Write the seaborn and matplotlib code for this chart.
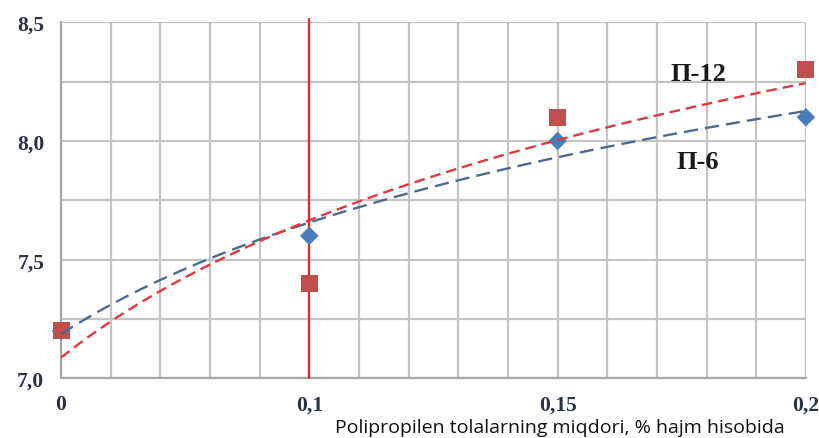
import numpy as np
import pandas as pd
import matplotlib
matplotlib.use("Agg")
import matplotlib.pyplot as plt
from matplotlib.ticker import MultipleLocator
import seaborn as sns

# Data
categories = ["0", "0,1", "0,15", "0,2"]
p6_values = [7.2, 7.6, 8.0, 8.1]
p12_values = [7.2, 7.4, 8.1, 8.3]

sns.set_style("white")

idx = np.arange(len(categories))

# logarithmic trend lines (Excel style: y = a*ln(x) + b, x = 1..n)
xs = np.linspace(0, len(categories) - 1, 200)
a6, b6 = np.polyfit(np.log(idx + 1), p6_values, 1)
a12, b12 = np.polyfit(np.log(idx + 1), p12_values, 1)
trend = pd.DataFrame({
    "x": xs,
    "p6": a6 * np.log(xs + 1) + b6,
    "p12": a12 * np.log(xs + 1) + b12,
})
points = pd.DataFrame({"x": idx, "p6": p6_values, "p12": p12_values})

fig = plt.figure(figsize=(8.19, 4.39), dpi=100)
ax = fig.add_axes([0.0745, 0.136, 0.9095, 0.811])

grid_c = "#c4c4c4"
ax.set_xlim(0, 3)
ax.set_ylim(7.0, 8.5)
ax.xaxis.set_major_locator(MultipleLocator(1))
ax.xaxis.set_minor_locator(MultipleLocator(0.2))
ax.yaxis.set_major_locator(MultipleLocator(0.5))
ax.yaxis.set_minor_locator(MultipleLocator(0.25))
ax.grid(True, which="both", color=grid_c, linewidth=1.6)
ax.set_axisbelow(True)
for side in ["top", "right"]:
    ax.spines[side].set_visible(False)
for side in ["left", "bottom"]:
    ax.spines[side].set_color("#a6a6a6")
    ax.spines[side].set_linewidth(1.6)

ax.set_xticks(idx)
ax.set_xticklabels(categories)
ax.set_yticks([7.0, 7.5, 8.0, 8.5])
ax.set_yticklabels(["7,0", "7,5", "8,0", "8,5"])
ax.tick_params(axis="both", which="major", width=1.4, color="#a6a6a6",
               labelsize=15.5, labelcolor="#2b3244")
ax.tick_params(axis="x", which="major", length=4.5, pad=7)
ax.tick_params(axis="y", which="major", length=6, pad=6)
ax.tick_params(axis="both", which="minor", length=0)
for lab in ax.get_xticklabels() + ax.get_yticklabels():
    lab.set_family("Liberation Serif")
    lab.set_fontweight("bold")

# vertical marker line at 0,1
ax.axvline(1, ymin=0, ymax=1.01, color="#e8262b", linewidth=1.6, clip_on=False, zorder=3)

sns.scatterplot(data=points, x="x", y="p6", ax=ax, marker="D", s=90,
                color="#4a7ebb", edgecolor="none", zorder=4, clip_on=False)
sns.scatterplot(data=points, x="x", y="p12", ax=ax, marker="s", s=150,
                color="#c0504d", edgecolor="none", zorder=5, clip_on=False)

sns.lineplot(data=trend, x="x", y="p6", ax=ax, color="#4d6a8e", linewidth=1.7,
             zorder=6).lines[-1].set_dashes([6, 3])
sns.lineplot(data=trend, x="x", y="p12", ax=ax, color="#e0393e", linewidth=1.7,
             zorder=6).lines[-1].set_dashes([4.5, 2.5])

ax.set_xlabel("")
ax.set_ylabel("")

ax.text(2.568, 8.285, "П-12", family="Liberation Serif", fontweight="bold",
        fontsize=19, ha="center", va="center", color="#1a1a1a")
ax.text(2.566, 7.915, "П-6", family="Liberation Serif", fontweight="bold",
        fontsize=19, ha="center", va="center", color="#1a1a1a")

fig.text(335 / 819, 2 / 439, "Polipropilen tolalarning miqdori, % hajm hisobida",
         family="Open Sans", fontsize=14, ha="left", va="bottom", color="#111111")

fig.savefig("out.png", dpi=100)
